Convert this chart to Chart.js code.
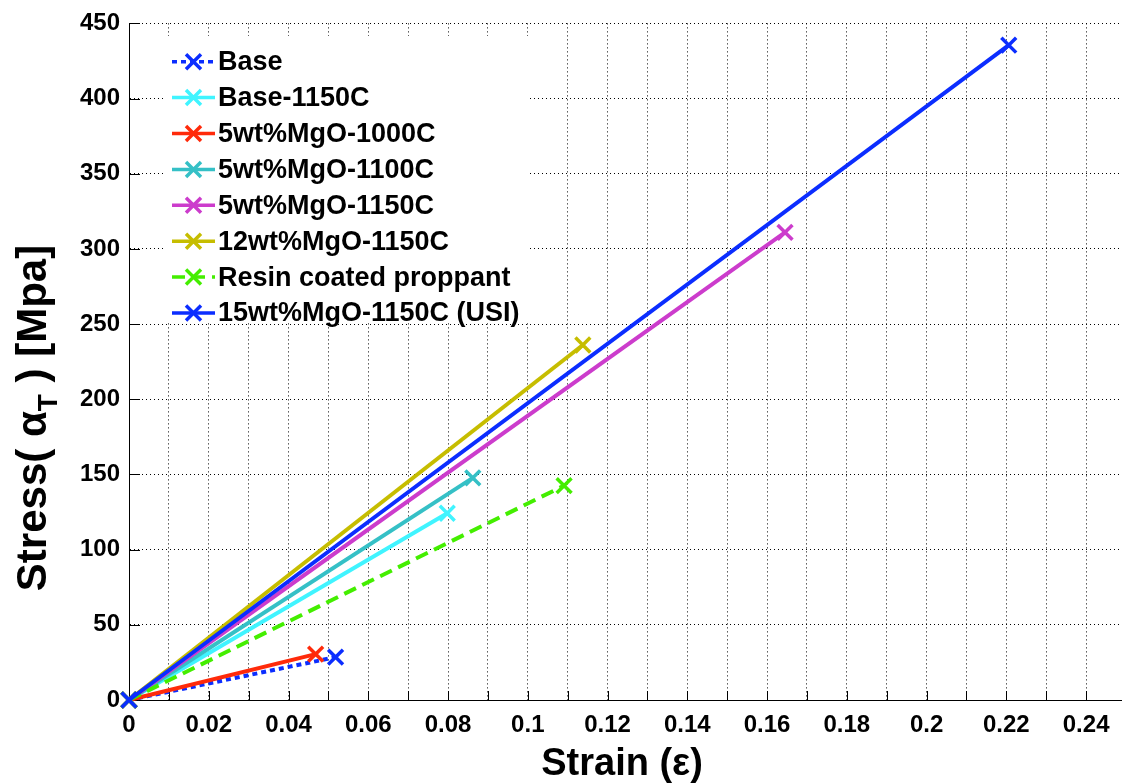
<!DOCTYPE html>
<html>
<head>
<meta charset="utf-8">
<script src="https://cdn.jsdelivr.net/npm/chart.js@4"></script>
<style>
  html, body { margin: 0; padding: 0; background: #fff; overflow: hidden; }
  canvas { display: block; }
</style>
</head>
<body>
<canvas id="chartStress" width="1140" height="784"></canvas>
<script>
// ===============================
// Dados: tensão x deformação (origem até ruptura)
// ===============================
const seriesNames = [
  "Base",
  "Base-1150C",
  "5wt%MgO-1000C",
  "5wt%MgO-1100C",
  "5wt%MgO-1150C",
  "12wt%MgO-1150C",
  "Resin coated proppant",
  "15wt%MgO-1150C (USI)"
];
const strainStart = [0, 0, 0, 0, 0, 0, 0, 0];
const stressStart = [0, 0, 0, 0, 0, 0, 0, 0];
const strainEnd = [0.0518, 0.0798, 0.0468, 0.0862, 0.1645, 0.1138, 0.1091, 0.2206];
const stressEnd = [28.5, 124.2, 30.5, 147.7, 311, 236.1, 142.6, 435.5];

const strainMax = 0.25;
const stressMax = 450;

// Estilos de cada curva
const colors = ["#0b2dff", "#40f4ff", "#ff2a0a", "#35c0c6", "#cc3ccc", "#c6bd00", "#44ee00", "#0b2dff"];
const dashes = [[5, 4], [], [], [], [], [], [13, 7], []];

const FONT = "'Liberation Sans', Arial, Helvetica, sans-serif";

// ===============================
// Plugins
// ===============================
// marcas dos eixos voltadas para dentro (estilo MATLAB)
const innerTicks = {
  id: "innerTicks",
  beforeDatasetsDraw(chart) {
    const { ctx, chartArea, scales } = chart;
    ctx.save();
    ctx.strokeStyle = "#000";
    ctx.lineWidth = 1;
    ctx.beginPath();
    scales.x.ticks.forEach(t => {
      const px = Math.round(scales.x.getPixelForValue(t.value)) + 0.5;
      ctx.moveTo(px, chartArea.bottom);
      ctx.lineTo(px, chartArea.bottom - 9);
    });
    scales.y.ticks.forEach(t => {
      const py = Math.round(scales.y.getPixelForValue(t.value)) + 0.5;
      ctx.moveTo(chartArea.left, py);
      ctx.lineTo(chartArea.left + 11, py);
    });
    ctx.stroke();
    ctx.restore();
  }
};

// títulos dos eixos (o do eixo y tem subscrito)
const axisTitles = {
  id: "axisTitles",
  afterDraw(chart) {
    const { ctx } = chart;
    ctx.save();
    ctx.fillStyle = "#000";
    ctx.textBaseline = "alphabetic";

    ctx.font = `bold 38px ${FONT}`;
    ctx.textAlign = "center";
    ctx.fillText("Strain (ε)", 622, 775);

    ctx.translate(46, 418);
    ctx.rotate(-Math.PI / 2);
    ctx.textAlign = "left";
    const big = `bold 42px ${FONT}`;
    const small = `bold 28px ${FONT}`;
    const parts = [["Stress( α", big, 0], ["T", small, 11], [" ) [Mpa]", big, 0]];
    let total = 0;
    parts.forEach(([txt, f]) => { ctx.font = f; total += ctx.measureText(txt).width; });
    let cx = -total / 2;
    parts.forEach(([txt, f, dy]) => {
      ctx.font = f;
      ctx.fillText(txt, cx, dy);
      cx += ctx.measureText(txt).width;
    });
    ctx.restore();
  }
};

// legenda com amostra de linha e marcador
const lineLegend = {
  id: "lineLegend",
  afterDraw(chart) {
    const { ctx } = chart;
    const sets = chart.data.datasets;
    ctx.save();
    ctx.fillStyle = "#fff";
    ctx.fillRect(163, 36, 367, 286);
    ctx.font = `bold 27px ${FONT}`;
    ctx.textBaseline = "middle";
    ctx.textAlign = "left";
    sets.forEach((ds, i) => {
      const y = 61.7 + i * 35.9;
      ctx.strokeStyle = ds.borderColor;
      ctx.lineWidth = 3.5;
      ctx.setLineDash(ds.borderDash || []);
      ctx.beginPath();
      ctx.moveTo(172, y);
      ctx.lineTo(215, y);
      ctx.stroke();
      ctx.setLineDash([]);
      const r = 7.5;
      ctx.beginPath();
      ctx.moveTo(193.5 - r, y - r);
      ctx.lineTo(193.5 + r, y + r);
      ctx.moveTo(193.5 - r, y + r);
      ctx.lineTo(193.5 + r, y - r);
      ctx.stroke();
      ctx.fillStyle = "#000";
      ctx.fillText(ds.label, 218, y + 1);
    });
    ctx.restore();
  }
};

// ===============================
// Gráfico
// ===============================
const datasets = seriesNames.map((name, i) => ({
  label: name,
  data: [
    { x: strainStart[i], y: stressStart[i] },
    { x: strainEnd[i], y: stressEnd[i] }
  ],
  borderColor: colors[i],
  backgroundColor: colors[i],
  borderDash: dashes[i],
  borderWidth: 4,
  pointStyle: "crossRot",
  pointRadius: 10.5,
  pointBorderWidth: 3.5,
  pointBorderColor: colors[i],
  tension: 0,
  clip: false,
  order: seriesNames.length - i
}));

const gridDots = {
  color: "#000",
  lineWidth: 1,
  drawTicks: false,
  tickLength: 0
};

new Chart(document.getElementById("chartStress").getContext("2d"), {
  type: "line",
  data: { datasets },
  plugins: [innerTicks, axisTitles, lineLegend],
  options: {
    responsive: false,
    animation: false,
    devicePixelRatio: 1,
    layout: { padding: { top: 22, right: 13, left: 0, bottom: 0 } },
    plugins: { legend: { display: false }, tooltip: { enabled: false } },
    scales: {
      x: {
        type: "linear",
        min: 0,
        max: strainMax,
        grid: gridDots,
        border: { display: true, color: "#000", width: 1, dash: [1, 3] },
        afterFit: s => { s.height = 84; },
        ticks: {
          stepSize: 0.01,
          autoSkip: false,
          maxRotation: 0,
          padding: 11,
          color: "#000",
          font: { family: FONT, size: 24, weight: "bold" },
          callback: v => {
            const k = Math.round(v * 100);
            if (k % 2 !== 0 || k > 24) return "";
            return String(Number(v.toFixed(2)));
          }
        }
      },
      y: {
        min: 0,
        max: stressMax,
        grid: gridDots,
        border: { display: true, color: "#000", width: 1, dash: [1, 3] },
        afterFit: s => { s.width = 129; },
        ticks: {
          stepSize: 50,
          padding: 9,
          color: "#000",
          font: { family: FONT, size: 24, weight: "bold" }
        }
      }
    }
  }
});
</script>
</body>
</html>
